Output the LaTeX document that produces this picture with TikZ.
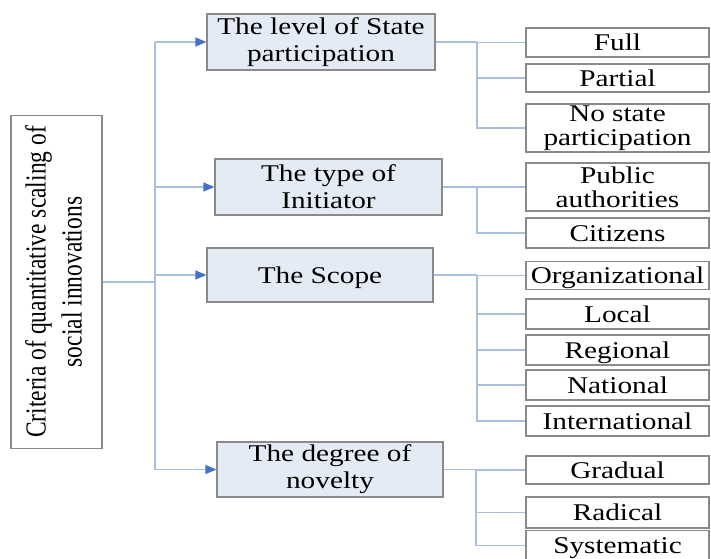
\documentclass[tikz,border=0pt]{standalone}
\usepackage{fontspec}
\setmainfont{Liberation Serif}[FakeStretch=1.22]
\newfontfamily\rootfont{Liberation Serif}[FakeStretch=0.81]
\usetikzlibrary{arrows.meta}
\definecolor{linkblue}{HTML}{A8BFDF}
\definecolor{tipblue}{HTML}{4472C4}
\definecolor{boxfill}{HTML}{E5EBF5}
\definecolor{boxline}{HTML}{8A8A8A}
\tikzset{
  rootbox/.style={draw=boxline, line width=1.2pt, fill=white, minimum width=91pt, minimum height=333pt, inner sep=0pt},
  critbox/.style={draw=boxline, line width=1.2pt, fill=boxfill, inner sep=0pt, align=center, font=\fontsize{24}{27}\selectfont},
  critone/.style={critbox, text height=16pt, text depth=0pt},
  leafbox/.style={draw=boxline, line width=1.1pt, fill=white, inner sep=0pt, minimum width=183pt, align=center, font=\fontsize{24}{24}\selectfont},
  leafone/.style={leafbox, text height=16pt, text depth=0pt},
  link/.style={draw=linkblue, line width=1.3pt},
  arrowlink/.style={link, -{Triangle[length=11pt,width=9pt,fill=tipblue,color=tipblue]}},
}
\begin{document}
\begin{tikzpicture}[x=1pt,y=-1pt]
\useasboundingbox (0,0) rectangle (711,558);
% root
\node[rootbox] (root) at (56.5,282) {\rotatebox{90}{\rootfont\fontsize{29}{36}\selectfont\begin{tabular}{@{}c@{}}Criteria of quantitative scaling of\\ social innovations\end{tabular}}};
% criteria
\node[critbox, minimum width=228pt, minimum height=56pt] (level) at (321,42) {The level of State\\participation};
\node[critbox, minimum width=227pt, minimum height=56pt] (type) at (328.5,187) {The type of\\Initiator};
\node[critone, minimum width=226pt, minimum height=54pt] (scope) at (320,275) {The Scope};
\node[critbox, minimum width=226pt, minimum height=55pt] (degree) at (330,469.5) {The degree of\\novelty};
% leaves
\node[leafone, minimum height=29pt] (full) at (617.5,42.5) {Full};
\node[leafone, minimum height=28pt] (partial) at (617.5,78) {Partial};
\node[leafbox, minimum height=48pt] (nostate) at (617.5,128) {No state\\participation};
\node[leafbox, minimum height=48pt] (public) at (617.5,187) {Public\\authorities};
\node[leafone, minimum height=30pt] (citizens) at (617.5,233) {Citizens};
\node[leafone, minimum height=28pt] (org) at (617.5,275.5) {Organizational};
\node[leafone, minimum height=30pt] (local) at (617.5,314) {Local};
\node[leafone, minimum height=30pt] (regional) at (617.5,350) {Regional};
\node[leafone, minimum height=30pt] (national) at (617.5,385) {National};
\node[leafone, minimum height=30pt] (intl) at (617.5,421) {International};
\node[leafone, minimum height=28pt] (gradual) at (617.5,470) {Gradual};
\node[leafone, minimum height=31pt] (radical) at (617.5,512.5) {Radical};
\node[leafone, minimum height=30pt] (systematic) at (617.5,545.5) {Systematic};
% trunk
\coordinate (tr0) at (155,282);
\coordinate (tr1) at (155,42);
\coordinate (tr2) at (155,187);
\coordinate (tr3) at (155,275);
\coordinate (tr4) at (155,469.5);
\draw[link] (root) -- (tr0);
\draw[link] (tr1) -- (tr4);
\draw[arrowlink] (tr1) -- (level);
\draw[arrowlink] (tr2) -- (type);
\draw[arrowlink] (tr3) -- (scope);
\draw[arrowlink] (tr4) -- (degree);
% buses
\coordinate (b1) at (477,42);
\coordinate (b2) at (477,187);
\coordinate (b3) at (477,275);
\coordinate (b4) at (476,469.5);
\draw[link] (level) -- (b1);
\draw[link] (type) -- (b2);
\draw[link] (scope) -- (b3);
\draw[link] (degree) -- (b4);
\foreach \n in {full,partial,nostate} \draw[link] (b1) |- (\n);
\foreach \n in {public,citizens} \draw[link] (b2) |- (\n);
\foreach \n in {org,local,regional,national,intl} \draw[link] (b3) |- (\n);
\foreach \n in {gradual,radical,systematic} \draw[link] (b4) |- (\n);
\end{tikzpicture}
\end{document}
